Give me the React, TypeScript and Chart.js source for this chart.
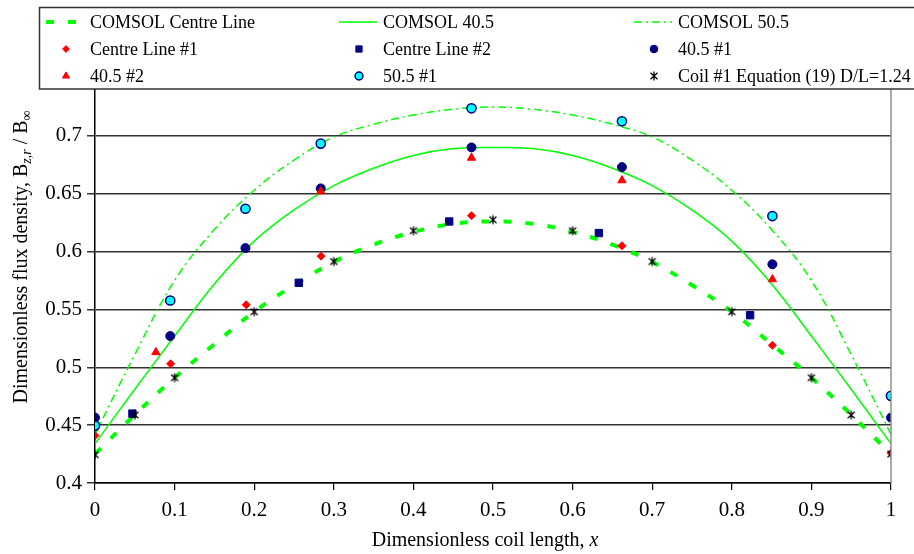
import React, { useEffect, useRef } from 'react';
import { Chart, registerables } from 'chart.js';

Chart.register(...registerables);

// ---------- DATA ----------
const curveX = [0, 0.05, 0.1, 0.15, 0.2, 0.25, 0.3, 0.35, 0.4, 0.45, 0.5, 0.55, 0.6, 0.65, 0.7, 0.75, 0.8, 0.85, 0.9, 0.95, 1];
const comsolCentre = [0.425, 0.459, 0.491, 0.520, 0.548, 0.571, 0.591, 0.606, 0.617, 0.624, 0.626, 0.624, 0.617, 0.606, 0.591, 0.571, 0.548, 0.520, 0.491, 0.459, 0.425];
const comsol405 = [0.434, 0.481, 0.527, 0.572, 0.609, 0.636, 0.657, 0.672, 0.683, 0.689, 0.690, 0.689, 0.683, 0.672, 0.657, 0.636, 0.609, 0.572, 0.527, 0.481, 0.434];
const comsol505 = [0.442, 0.511, 0.575, 0.619, 0.653, 0.679, 0.699, 0.710, 0.718, 0.723, 0.725, 0.723, 0.718, 0.710, 0.699, 0.679, 0.653, 0.619, 0.575, 0.511, 0.442];

const centre1X = [0, 0.095, 0.19, 0.284, 0.473, 0.662, 0.851, 1.0];
const centre1Y = [0.441, 0.503, 0.554, 0.596, 0.631, 0.605, 0.519, 0.426];

const centre2X = [0.047, 0.256, 0.445, 0.633, 0.823];
const centre2Y = [0.460, 0.573, 0.626, 0.616, 0.545];

const c405a_X = [0, 0.0945, 0.189, 0.2836, 0.473, 0.662, 0.851, 1.0];
const c405a_Y = [0.4565, 0.527, 0.603, 0.6546, 0.690, 0.673, 0.589, 0.4565];

const c405b_X = [0.0765, 0.2836, 0.473, 0.662, 0.851];
const c405b_Y = [0.513, 0.652, 0.681, 0.6615, 0.576];

const c505_X = [0, 0.0945, 0.189, 0.2836, 0.473, 0.662, 0.851, 1.0];
const c505_Y = [0.4496, 0.5577, 0.637, 0.6933, 0.7238, 0.7126, 0.6307, 0.4753];

const eqX = [0, 0.05, 0.1, 0.2, 0.3, 0.4, 0.5, 0.6, 0.7, 0.8, 0.9, 0.95, 1];
const eqY = [0.4245, 0.4588, 0.491, 0.548, 0.5914, 0.618, 0.6275, 0.618, 0.5914, 0.548, 0.491, 0.4588, 0.425];

const seriesLabels = [
  'COMSOL Centre Line', 'COMSOL 40.5', 'COMSOL 50.5',
  'Centre Line #1', 'Centre Line #2', '40.5 #1',
  '40.5 #2', '50.5 #1', 'Coil #1 Equation (19) D/L=1.24',
];

const xTitle = 'Dimensionless coil length, ';
const xTitleVar = 'x';
const yTitleMain = 'Dimensionless flux density, B';
const yTitleSub1 = 'z,r';
const yTitleMid = ' / B';
const yTitleSub2 = '\u221E';

// ---------- STYLE ----------
const GREEN = '#00FF00';
const NAVY = '#000080';
const RED = '#FF0000';
const CYAN = '#00FFFF';
const SERIF = '"Liberation Serif", "Times New Roman", serif';

const zip = (xs: number[], ys: number[]) => xs.map((x, i) => ({ x, y: ys[i] }));

function makeStar(): HTMLCanvasElement {
  const c = document.createElement('canvas');
  c.width = 12; c.height = 12;
  const g = c.getContext('2d')!;
  g.strokeStyle = '#000';
  g.lineWidth = 1.3;
  g.beginPath();
  g.moveTo(2.5, 2.8); g.lineTo(9.5, 9.2);
  g.moveTo(9.5, 2.8); g.lineTo(2.5, 9.2);
  g.moveTo(6, 1.5); g.lineTo(6, 10.5);
  g.stroke();
  return c;
}

function drawMarker(ctx: CanvasRenderingContext2D, ds: any, x: number, y: number) {
  const style = ds.pointStyle;
  const r = ds.pointRadius * 0.85;
  ctx.save();
  if (style instanceof HTMLCanvasElement) {
    ctx.drawImage(style, x - style.width / 2, y - style.height / 2);
    ctx.restore();
    return;
  }
  ctx.fillStyle = ds.pointBackgroundColor;
  ctx.strokeStyle = ds.pointBorderColor;
  ctx.lineWidth = ds.pointBorderWidth || 1;
  ctx.beginPath();
  if (style === 'circle') {
    ctx.arc(x, y, r, 0, Math.PI * 2);
  } else if (style === 'rect') {
    const s = Math.SQRT1_2 * r;
    ctx.rect(x - s, y - s, 2 * s, 2 * s);
  } else if (style === 'rectRot') {
    ctx.moveTo(x, y - r); ctx.lineTo(x + r, y); ctx.lineTo(x, y + r); ctx.lineTo(x - r, y);
    ctx.closePath();
  } else if (style === 'triangle') {
    for (let k = 0; k < 3; k++) {
      const a = (k * 2 * Math.PI) / 3;
      const px = x + Math.sin(a) * r;
      const py = y - Math.cos(a) * r;
      if (k === 0) ctx.moveTo(px, py); else ctx.lineTo(px, py);
    }
    ctx.closePath();
  }
  ctx.fill();
  ctx.stroke();
  ctx.restore();
}

type Part = { t: string; font: string; dy: number };
function drawRich(ctx: CanvasRenderingContext2D, parts: Part[], cx: number, cy: number, rot: number) {
  ctx.save();
  ctx.translate(cx, cy);
  ctx.rotate(rot);
  let total = 0;
  const ws = parts.map(p => { ctx.font = p.font; const w = ctx.measureText(p.t).width; total += w; return w; });
  let x = -total / 2;
  ctx.fillStyle = '#000';
  ctx.textBaseline = 'middle';
  ctx.textAlign = 'left';
  parts.forEach((p, i) => {
    ctx.font = p.font;
    ctx.fillText(p.t, x, p.dy);
    x += ws[i];
  });
  ctx.restore();
}

const decorPlugin = {
  id: 'decor',
  afterDraw(chart: any) {
    const ctx: CanvasRenderingContext2D = chart.ctx;
    const area = chart.chartArea;
    // right border of plot area
    ctx.save();
    ctx.strokeStyle = '#8c8c8c';
    ctx.lineWidth = 1.5;
    ctx.beginPath();
    ctx.moveTo(area.right, area.top);
    ctx.lineTo(area.right, area.bottom);
    ctx.stroke();
    ctx.restore();

    // axis titles
    drawRich(ctx, [
      { t: xTitle, font: `20px ${SERIF}`, dy: 0 },
      { t: xTitleVar, font: `italic 20px ${SERIF}`, dy: 0 },
    ], 485, 541, 0);
    drawRich(ctx, [
      { t: yTitleMain, font: `20px ${SERIF}`, dy: 0 },
      { t: yTitleSub1, font: `italic 14px ${SERIF}`, dy: 5 },
      { t: yTitleMid, font: `20px ${SERIF}`, dy: 0 },
      { t: yTitleSub2, font: `14px ${SERIF}`, dy: 5 },
    ], 22, 257, -Math.PI / 2);

    // legend box
    ctx.save();
    ctx.fillStyle = '#fff';
    ctx.strokeStyle = '#333';
    ctx.lineWidth = 1.5;
    ctx.fillRect(39.5, 7.5, 900, 81.5);
    ctx.strokeRect(39.5, 7.5, 900, 81.5);
    ctx.restore();

    const colX = [90, 383, 678];
    const rowY = [22, 49, 76];
    const order = chart.data.datasets;
    order.forEach((ds: any, i: number) => {
      const tx = colX[i % 3];
      const ty = rowY[Math.floor(i / 3)];
      if (ds.showLine) {
        ctx.save();
        ctx.strokeStyle = ds.borderColor;
        ctx.lineWidth = ds.borderWidth;
        ctx.setLineDash(ds.borderDash || []);
        ctx.lineCap = 'butt';
        ctx.beginPath();
        ctx.moveTo(tx - 44, ty);
        ctx.lineTo(tx - 6, ty);
        ctx.stroke();
        ctx.restore();
      } else {
        drawMarker(ctx, ds, tx - 24, ty);
      }
      ctx.save();
      ctx.fillStyle = '#000';
      ctx.font = `18px ${SERIF}`;
      ctx.textBaseline = 'middle';
      ctx.textAlign = 'left';
      ctx.fillText(ds.label, tx, ty + 1);
      ctx.restore();
    });
  },
};

export default function App() {
  const ref = useRef<HTMLCanvasElement>(null);
  useEffect(() => {
    document.body.style.margin = '0';
    const star = makeStar();
    const lineDs = (label: string, ys: number[], width: number, dash: number[], order: number) => ({
      label,
      data: zip(curveX, ys),
      showLine: true,
      borderColor: GREEN,
      backgroundColor: GREEN,
      borderWidth: width,
      borderDash: dash,
      pointRadius: 0,
      tension: 0.4,
      order,
    });
    const ptDs = (label: string, xs: number[], ys: number[], style: any, r: number, fill: string, stroke: string, bw: number, order: number) => ({
      label,
      data: zip(xs, ys),
      showLine: false,
      pointStyle: style,
      pointRadius: r,
      pointBackgroundColor: fill,
      pointBorderColor: stroke,
      pointBorderWidth: bw,
      order,
    });
    const chart = new Chart(ref.current!, {
      type: 'scatter',
      data: {
        datasets: [
          lineDs(seriesLabels[0], comsolCentre, 4, [8, 14], 20),
          lineDs(seriesLabels[1], comsol405, 1.5, [], 21),
          lineDs(seriesLabels[2], comsol505, 1.5, [8, 4, 2, 4], 22),
          ptDs(seriesLabels[3], centre1X, centre1Y, 'rectRot', 4, RED, RED, 1, 3),
          ptDs(seriesLabels[4], centre2X, centre2Y, 'rect', 5.2, NAVY, NAVY, 1, 4),
          ptDs(seriesLabels[5], c405a_X, c405a_Y, 'circle', 4.5, NAVY, NAVY, 1, 7),
          ptDs(seriesLabels[6], c405b_X, c405b_Y, 'triangle', 4.8, RED, RED, 1, 6),
          ptDs(seriesLabels[7], c505_X, c505_Y, 'circle', 4.6, CYAN, NAVY, 1.5, 5),
          ptDs(seriesLabels[8], eqX, eqY, star, 5, '#000', '#000', 1, 1),
        ] as any,
      },
      options: {
        animation: false,
        responsive: false,
        devicePixelRatio: 1,
        layout: { padding: { top: 78, right: 23, left: 0, bottom: 0 } },
        plugins: { legend: { display: false }, tooltip: { enabled: false } },
        scales: {
          x: {
            type: 'linear',
            min: 0,
            max: 1,
            afterFit: (s: any) => { s.height = 71; },
            ticks: {
              stepSize: 0.1,
              padding: 8,
              color: '#000',
              font: { family: SERIF, size: 21 },
              maxRotation: 0,
              callback: (v: any) => String(Math.round(Number(v) * 10) / 10),
            },
            grid: { drawOnChartArea: false, drawTicks: true, tickLength: 7, color: '#000', lineWidth: 1.2 },
            border: { display: true, color: '#000', width: 1.5 },
          },
          y: {
            type: 'linear',
            min: 0.4,
            max: 0.75,
            afterFit: (s: any) => { s.width = 95; },
            ticks: {
              stepSize: 0.05,
              padding: 5,
              color: '#000',
              font: { family: SERIF, size: 21 },
              callback: (v: any) => String(Math.round(Number(v) * 100) / 100),
            },
            grid: { drawOnChartArea: true, drawTicks: true, tickLength: 8, color: '#333', lineWidth: 1.5 },
            border: { display: true, color: '#000', width: 1.5 },
          },
        },
      },
      plugins: [decorPlugin],
    } as any);
    return () => chart.destroy();
  }, []);
  return <canvas ref={ref} width={914} height={554} style={{ display: 'block', width: 914, height: 554 }} />;
}
